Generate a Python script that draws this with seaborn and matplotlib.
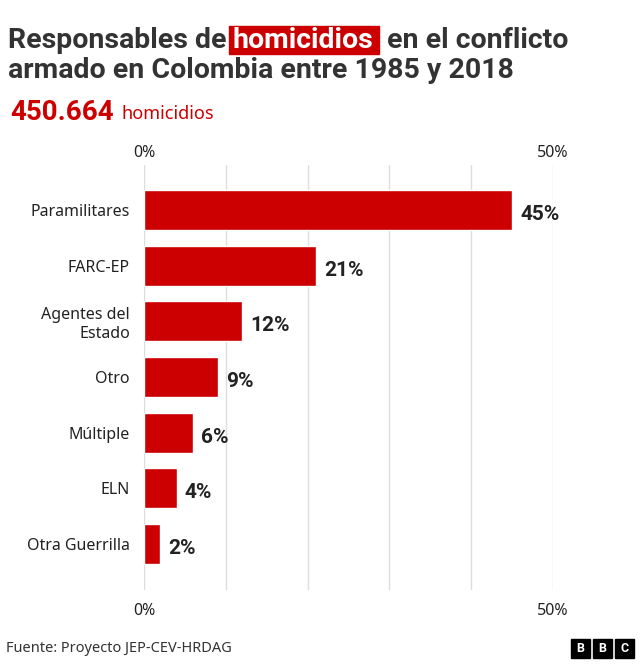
import matplotlib
matplotlib.use("Agg")
import matplotlib.pyplot as plt
import seaborn as sns
import pandas as pd
from matplotlib.patches import Rectangle

categories = ["Paramilitares", "FARC-EP", "Agentes del\nEstado", "Otro", "Múltiple", "ELN", "Otra Guerrilla"]
values = [45, 21, 12, 9, 6, 4, 2]
labels = ["45%", "21%", "12%", "9%", "6%", "4%", "2%"]
RED = "#CC0000"

sns.set_style("white")
plt.rcParams['font.family'] = ['Noto Sans', 'DejaVu Sans']
B = ['Roboto', 'DejaVu Sans']

fig = plt.figure(figsize=(6.4, 6.69), dpi=100)
ax = fig.add_axes([144/640, 1-590/669, (553-144)/640, (590-165)/669])
df = pd.DataFrame({"cat": categories, "val": values})
sns.barplot(data=df, x="val", y="cat", color=RED, saturation=1, width=0.72, ax=ax, zorder=2)
ax.set_xlim(0, 50)
ax.set_ylim(6.83, -0.81)
for x in range(0, 51, 10):
    ax.axvline(x, color="#dddddd", lw=1, zorder=0)
for s in ax.spines.values():
    s.set_visible(False)
ax.set_xlabel(""); ax.set_ylabel("")
ax.set_xticks([])
ax.tick_params(axis="y", length=0, pad=10, labelsize=11.5, labelcolor="#222222")
for t in ax.get_yticklabels():
    t.set_horizontalalignment("right")
    t.set_multialignment("right")
for i, (v, l) in enumerate(zip(values, labels)):
    ax.text(v + 1, i + 0.08, l, va="center", ha="left", fontsize=15, fontweight="bold", color="#222222", family=B)
for yy in (153, 611):
    fig.text(144/640, 1-yy/669, "0%", ha="center", va="center", fontsize=11.5, color="#222222")
    fig.text(553/640, 1-yy/669, "50%", ha="center", va="center", fontsize=11.5, color="#222222")

# Title
fig.canvas.draw()
r = fig.canvas.get_renderer()
tfs = 20.5
t1 = fig.text(8/640, 1-40/669, "Responsables de", fontsize=tfs, fontweight="bold", color="#333333", va="center", family=B)
bb = t1.get_window_extent(r)
x2 = bb.x1 + 6
t2 = fig.text(x2/640, 1-40/669, "homicidios", fontsize=tfs, fontweight="bold", color="white", va="center", zorder=3, family=B)
bb2 = t2.get_window_extent(r)
fig.patches.append(Rectangle(((x2-4)/640, 1-54/669), (bb2.width+10)/640, 28/669, transform=fig.transFigure, color=RED, zorder=1))
fig.text((bb2.x1 + 14)/640, 1-40/669, "en el conflicto", fontsize=tfs, fontweight="bold", color="#333333", va="center", family=B)
fig.text(8/640, 1-71/669, "armado en Colombia entre 1985 y 2018", fontsize=tfs, fontweight="bold", color="#333333", va="center", family=B)

s1 = fig.text(10/640, 1-113/669, "450.664", fontsize=20, fontweight="bold", color=RED, va="center", family=B)
bb3 = s1.get_window_extent(r)
fig.text((bb3.x1 + 8)/640, 1-114/669, "homicidios", fontsize=13, color=RED, va="center")

fig.text(6/640, 1-649/669, "Fuente: Proyecto JEP-CEV-HRDAG", fontsize=10.5, color="#333333", va="center")
for i, ch in enumerate("BBC"):
    x0 = 571 + i*22
    fig.patches.append(Rectangle((x0/640, 1-658/669), 19/640, 19/669, transform=fig.transFigure, color="black"))
    fig.text((x0+9.5)/640, 1-648.5/669, ch, fontsize=9, fontweight="bold", color="white", ha="center", va="center", family=B)

fig.savefig("out.png", dpi=100)
